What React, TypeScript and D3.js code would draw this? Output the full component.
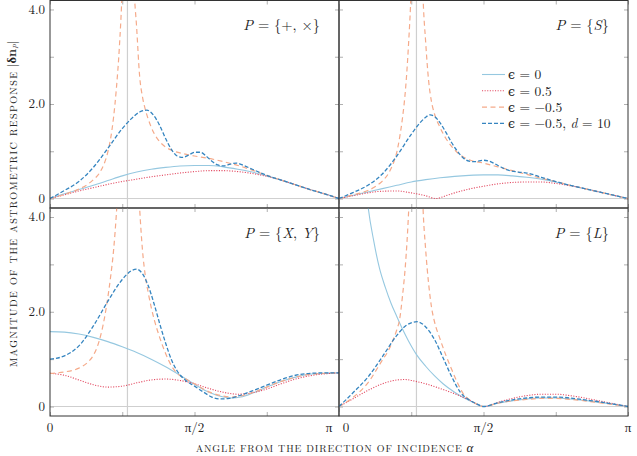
import * as React from "react";
import { useEffect, useRef } from "react";
import * as d3 from "d3";

type Pt = [number, number]; // [alpha / pi, |dn_P|]

// P = {+, x}
const plusZero: Pt[] = [[0,0],[0.05,0.1],[0.1,0.19],[0.15,0.28],[0.2,0.38],[0.25,0.48],[0.3,0.56],[0.35,0.62],[0.4,0.66],[0.45,0.69],[0.5,0.7],[0.55,0.7],[0.6,0.67],[0.65,0.62],[0.7,0.56],[0.75,0.48],[0.8,0.39],[0.85,0.29],[0.9,0.19],[0.95,0.1],[1,0]];
const plusHalf: Pt[] = [[0,0],[0.05,0.08],[0.1,0.16],[0.15,0.23],[0.2,0.3],[0.25,0.36],[0.3,0.41],[0.35,0.46],[0.4,0.5],[0.45,0.54],[0.5,0.57],[0.55,0.59],[0.6,0.59],[0.65,0.57],[0.7,0.53],[0.75,0.47],[0.8,0.39],[0.85,0.29],[0.9,0.19],[0.95,0.1],[1,0]];
const plusNegL: Pt[] = [[0,0],[0.05,0.09],[0.1,0.2],[0.13,0.3],[0.15,0.4],[0.17,0.53],[0.19,0.78],[0.2,0.98],[0.21,1.28],[0.22,1.72],[0.23,2.35],[0.24,3.2],[0.25,4.5],[0.26,7]];
const plusNegR: Pt[] = [[0.28,7],[0.29,4.6],[0.3,3.6],[0.31,2.6],[0.32,2.15],[0.33,1.88],[0.34,1.68],[0.36,1.38],[0.38,1.2],[0.4,1.09],[0.43,1.0],[0.46,0.95],[0.5,0.9],[0.55,0.85],[0.6,0.78],[0.65,0.7],[0.7,0.6],[0.75,0.49],[0.8,0.39],[0.85,0.29],[0.9,0.19],[0.95,0.1],[1,0]];
const plusD10: Pt[] = [[0,0],[0.05,0.17],[0.1,0.36],[0.15,0.66],[0.2,1.06],[0.25,1.48],[0.28,1.68],[0.31,1.83],[0.335,1.87],[0.36,1.75],[0.38,1.54],[0.4,1.27],[0.42,1.04],[0.44,0.9],[0.46,0.87],[0.48,0.92],[0.5,0.98],[0.52,0.98],[0.54,0.9],[0.56,0.79],[0.58,0.71],[0.6,0.69],[0.625,0.73],[0.645,0.75],[0.67,0.7],[0.7,0.62],[0.75,0.49],[0.8,0.39],[0.85,0.29],[0.9,0.19],[0.95,0.1],[1,0]];

// P = {S}
const sZero: Pt[] = [[0,0],[0.05,0.07],[0.1,0.14],[0.15,0.21],[0.2,0.28],[0.25,0.35],[0.3,0.4],[0.35,0.44],[0.4,0.47],[0.45,0.49],[0.5,0.5],[0.55,0.5],[0.6,0.48],[0.65,0.45],[0.7,0.41],[0.75,0.35],[0.8,0.28],[0.85,0.21],[0.9,0.14],[0.95,0.07],[1,0]];
const sHalf: Pt[] = [[0,0],[0.05,0.06],[0.1,0.12],[0.15,0.155],[0.2,0.16],[0.25,0.12],[0.3,0.06],[0.335,0],[0.37,0.06],[0.4,0.12],[0.45,0.2],[0.5,0.26],[0.55,0.31],[0.6,0.34],[0.65,0.35],[0.7,0.35],[0.75,0.32],[0.8,0.27],[0.85,0.21],[0.9,0.14],[0.95,0.07],[1,0]];
const sNegL: Pt[] = [[0,0],[0.05,0.08],[0.1,0.17],[0.13,0.27],[0.15,0.37],[0.17,0.52],[0.19,0.78],[0.2,0.98],[0.21,1.3],[0.22,1.72],[0.23,2.3],[0.24,3.2],[0.25,4.5],[0.26,7]];
const sNegR: Pt[] = [[0.28,7],[0.29,4.4],[0.3,3.3],[0.31,2.5],[0.32,2.05],[0.33,1.8],[0.35,1.5],[0.37,1.27],[0.39,1.1],[0.42,0.92],[0.45,0.82],[0.5,0.75],[0.55,0.67],[0.6,0.59],[0.65,0.51],[0.7,0.43],[0.75,0.36],[0.8,0.28],[0.85,0.21],[0.9,0.14],[0.95,0.07],[1,0]];
const sD10: Pt[] = [[0,0],[0.05,0.13],[0.1,0.28],[0.15,0.52],[0.2,0.9],[0.25,1.36],[0.28,1.6],[0.3,1.72],[0.315,1.77],[0.33,1.74],[0.35,1.6],[0.37,1.4],[0.39,1.18],[0.41,1.0],[0.43,0.86],[0.45,0.79],[0.47,0.78],[0.5,0.81],[0.52,0.79],[0.55,0.7],[0.58,0.61],[0.62,0.56],[0.65,0.54],[0.7,0.45],[0.75,0.36],[0.8,0.28],[0.85,0.21],[0.9,0.14],[0.95,0.07],[1,0]];

// P = {X, Y}
const xyZero: Pt[] = [[0,1.58],[0.05,1.57],[0.1,1.53],[0.15,1.46],[0.2,1.37],[0.25,1.26],[0.3,1.14],[0.35,1.0],[0.4,0.84],[0.45,0.66],[0.5,0.47],[0.55,0.3],[0.6,0.2],[0.63,0.18],[0.66,0.2],[0.7,0.28],[0.75,0.41],[0.8,0.53],[0.85,0.62],[0.9,0.68],[0.95,0.7],[1,0.71]];
const xyHalf: Pt[] = [[0,0.7],[0.05,0.66],[0.1,0.56],[0.15,0.46],[0.2,0.41],[0.25,0.43],[0.3,0.5],[0.35,0.56],[0.4,0.58],[0.45,0.55],[0.5,0.48],[0.55,0.38],[0.6,0.3],[0.65,0.26],[0.7,0.29],[0.75,0.37],[0.8,0.48],[0.85,0.58],[0.9,0.65],[0.95,0.69],[1,0.71]];
const xyNegL: Pt[] = [[0,0.7],[0.05,0.73],[0.1,0.81],[0.13,0.93],[0.15,1.08],[0.17,1.38],[0.19,1.92],[0.2,2.3],[0.21,2.75],[0.22,3.3],[0.23,4.1],[0.24,5.2],[0.25,7]];
const xyNegR: Pt[] = [[0.29,7],[0.3,5.4],[0.31,4.2],[0.32,3.3],[0.33,2.75],[0.34,2.4],[0.35,2.1],[0.36,1.85],[0.38,1.45],[0.4,1.12],[0.42,0.86],[0.44,0.7],[0.47,0.58],[0.5,0.48],[0.55,0.31],[0.6,0.22],[0.63,0.2],[0.66,0.22],[0.7,0.29],[0.75,0.41],[0.8,0.53],[0.85,0.62],[0.9,0.68],[0.95,0.7],[1,0.71]];
const xyD10: Pt[] = [[0,1.0],[0.05,1.07],[0.1,1.28],[0.15,1.7],[0.2,2.22],[0.25,2.68],[0.28,2.86],[0.3,2.9],[0.32,2.8],[0.34,2.55],[0.36,2.17],[0.38,1.74],[0.4,1.34],[0.42,0.99],[0.44,0.75],[0.47,0.55],[0.5,0.43],[0.53,0.31],[0.56,0.2],[0.59,0.16],[0.62,0.17],[0.65,0.22],[0.7,0.33],[0.75,0.45],[0.8,0.57],[0.85,0.66],[0.9,0.7],[0.95,0.71],[1,0.71]];

// P = {L}
const lZero: Pt[] = [[0.08,5.6],[0.09,4.85],[0.1,4.25],[0.12,3.5],[0.14,2.92],[0.16,2.52],[0.18,2.18],[0.2,1.9],[0.22,1.63],[0.24,1.39],[0.27,1.08],[0.3,0.85],[0.33,0.65],[0.36,0.48],[0.4,0.3],[0.43,0.19],[0.46,0.1],[0.5,0],[0.55,0.07],[0.6,0.12],[0.65,0.16],[0.7,0.18],[0.75,0.18],[0.8,0.16],[0.85,0.13],[0.9,0.09],[0.95,0.05],[1,0]];
const lHalf: Pt[] = [[0,0],[0.05,0.17],[0.1,0.34],[0.15,0.48],[0.2,0.56],[0.23,0.57],[0.25,0.55],[0.3,0.48],[0.35,0.38],[0.4,0.27],[0.45,0.14],[0.5,0],[0.55,0.09],[0.6,0.17],[0.65,0.23],[0.7,0.26],[0.75,0.26],[0.8,0.23],[0.85,0.18],[0.9,0.12],[0.95,0.06],[1,0]];
const lNegL: Pt[] = [[0,0],[0.05,0.2],[0.1,0.5],[0.15,0.98],[0.17,1.17],[0.19,1.45],[0.2,1.62],[0.21,1.85],[0.22,2.35],[0.23,3.0],[0.24,4.0],[0.25,5.5],[0.26,7.5]];
const lNegR: Pt[] = [[0.28,6.5],[0.29,4.3],[0.3,3.3],[0.31,2.6],[0.32,2.1],[0.33,1.8],[0.35,1.42],[0.37,1.08],[0.39,0.78],[0.41,0.5],[0.43,0.27],[0.45,0.15],[0.475,0.06],[0.5,0],[0.55,0.07],[0.6,0.12],[0.65,0.15],[0.7,0.17],[0.75,0.17],[0.8,0.15],[0.85,0.12],[0.9,0.08],[0.95,0.04],[1,0]];
const lD10: Pt[] = [[0,0],[0.05,0.3],[0.1,0.62],[0.15,1.05],[0.2,1.5],[0.23,1.7],[0.27,1.79],[0.3,1.68],[0.33,1.42],[0.36,1.03],[0.39,0.63],[0.42,0.3],[0.45,0.14],[0.475,0.06],[0.5,0],[0.55,0.08],[0.6,0.14],[0.65,0.18],[0.7,0.2],[0.75,0.2],[0.8,0.18],[0.85,0.14],[0.9,0.1],[0.95,0.05],[1,0]];

const panelNames = ["{+, ×}", "{S}", "{X, Y}", "{L}"];
const legendLabels = ["ϵ = 0", "ϵ = 0.5", "ϵ = −0.5", "ϵ = −0.5, d = 10"];
const resonanceAlpha = 0.268; // vertical guide, in units of pi
const xTicks = [0, 0.25, 0.5, 0.75, 1];
const xTickLabels: Record<number, string> = { 0: "0", 0.5: "π/2", 1: "π" };
const yTicks = [0, 1, 2, 3, 4];
const yTickLabels: Record<number, string> = { 0: "0", 2: "2.0", 4: "4.0" };

const panelData = [
  { zero: plusZero, half: plusHalf, neg: [plusNegL, plusNegR], d10: plusD10 },
  { zero: sZero, half: sHalf, neg: [sNegL, sNegR], d10: sD10 },
  { zero: xyZero, half: xyHalf, neg: [xyNegL, xyNegR], d10: xyD10 },
  { zero: lZero, half: lHalf, neg: [lNegL, lNegR], d10: lD10 },
];

const styles = [
  { color: "#96c8e0", width: 1.1, dash: "" },
  { color: "#e2475f", width: 1.1, dash: "1.1,1.5" },
  { color: "#f5aa8a", width: 1.2, dash: "5,3.5" },
  { color: "#3585c0", width: 1.3, dash: "4,2" },
];

const serif = "'Latin Modern Roman', 'CMU Serif', 'Liberation Serif', 'DejaVu Serif', serif";

export default function App() {
  const svgRef = useRef<SVGSVGElement>(null);

  useEffect(() => {
    if (!svgRef.current) return;
    const svg = d3.select(svgRef.current);
    svg.selectAll("*").remove();

    const cols = [50, 339, 628];
    const rows = [0.5, 208, 416];

    panelData.forEach((pd, i) => {
      const col = i % 2, row = Math.floor(i / 2);
      const x0 = cols[col], x1 = cols[col + 1];
      const y0 = rows[row], y1 = rows[row + 1];
      const x = d3.scaleLinear().domain([0, 1]).range([x0, x1]);
      const y = d3.scaleLinear().domain([-0.2, 4.19]).range([y1, y0]);

      const g = svg.append("g");
      const clipId = `clip${i}`;
      g.append("clipPath").attr("id", clipId)
        .append("rect").attr("x", x0).attr("y", y0).attr("width", x1 - x0).attr("height", y1 - y0);

      // guides
      g.append("line").attr("x1", x(resonanceAlpha)).attr("x2", x(resonanceAlpha))
        .attr("y1", y0).attr("y2", y1).attr("stroke", "#cfcfcf").attr("stroke-width", 1.2);
      g.append("line").attr("x1", x0).attr("x2", x1).attr("y1", y(0)).attr("y2", y(0))
        .attr("stroke", "#cfcfcf").attr("stroke-width", 1);

      // inward ticks
      const tickStyle = (sel: any) => {
        sel.select(".domain").remove();
        sel.selectAll("line").attr("stroke", "#b0b0b0");
        sel.selectAll("text").remove();
      };
      g.append("g").attr("transform", `translate(0,${y0})`)
        .call(d3.axisTop(x).tickValues(xTicks).tickSize(-4)).call(tickStyle);
      g.append("g").attr("transform", `translate(0,${y1})`)
        .call(d3.axisBottom(x).tickValues(xTicks).tickSize(-4)).call(tickStyle);
      g.append("g").attr("transform", `translate(${x0},0)`)
        .call(d3.axisLeft(y).tickValues(yTicks).tickSize(-4)).call(tickStyle);
      g.append("g").attr("transform", `translate(${x1},0)`)
        .call(d3.axisRight(y).tickValues(yTicks).tickSize(-4)).call(tickStyle);

      // curves
      const line = d3.line<Pt>().x(d => x(d[0])).y(d => y(d[1])).curve(d3.curveMonotoneX);
      const curves = g.append("g").attr("clip-path", `url(#${clipId})`);
      const series: Pt[][][] = [[pd.zero], [pd.half], pd.neg, [pd.d10]];
      series.forEach((segs, k) => {
        segs.forEach(seg => {
          curves.append("path").attr("d", line(seg)!)
            .attr("fill", "none")
            .attr("stroke", styles[k].color)
            .attr("stroke-width", styles[k].width)
            .attr("stroke-dasharray", styles[k].dash || null);
        });
      });

      // frame
      g.append("rect").attr("x", x0).attr("y", y0).attr("width", x1 - x0).attr("height", y1 - y0)
        .attr("fill", "none").attr("stroke", "#333").attr("stroke-width", 1);

      // tick labels
      if (col === 0) {
        yTicks.filter(v => v in yTickLabels).forEach(v => {
          g.append("text").attr("x", x0 - 5).attr("y", y(v)).attr("dy", "0.33em")
            .attr("text-anchor", "end").attr("font-family", serif).attr("font-size", 13)
            .attr("fill", "#222").text(yTickLabels[v]);
        });
      }
      if (row === 1) {
        xTicks.filter(v => v in xTickLabels).forEach(v => {
          let shift = 0;
          if (col === 0 && v === 1) shift = -10;
          if (col === 1 && v === 0) shift = 7;
          g.append("text").attr("x", x(v) + shift).attr("y", y1 + 15.5)
            .attr("text-anchor", "middle").attr("font-family", serif).attr("font-size", 13)
            .attr("fill", "#222").text(xTickLabels[v]);
        });
      }

      // panel label
      const lab = g.append("text").attr("x", x1 - 19).attr("y", y0 + 29.5)
        .attr("text-anchor", "end").attr("font-family", serif).attr("font-size", 14.5).attr("fill", "#222");
      lab.append("tspan").attr("font-style", "italic").text("P");
      const parts = panelNames[i].split(/([A-Z])/);
      lab.append("tspan").text(" = ");
      parts.forEach(p => {
        if (!p) return;
        const t = lab.append("tspan").text(p);
        if (/^[A-Z]$/.test(p)) t.attr("font-style", "italic");
      });

      // legend in the top-right panel
      if (i === 1) {
        legendLabels.forEach((txt, k) => {
          const ly = y0 + 74 + k * 16.3;
          g.append("line").attr("x1", x1 - 146).attr("x2", x1 - 123).attr("y1", ly).attr("y2", ly)
            .attr("stroke", styles[k].color).attr("stroke-width", styles[k].width)
            .attr("stroke-dasharray", styles[k].dash || null);
          const t = g.append("text").attr("x", x1 - 120).attr("y", ly).attr("dy", "0.35em")
            .attr("font-family", serif).attr("font-size", 13.5).attr("fill", "#222");
          txt.split(/([ϵd])/).forEach(p => {
            if (!p) return;
            const s = t.append("tspan").text(p);
            if (p === "ϵ") s.attr("font-family", "'DejaVu Serif', serif").attr("font-size", 12.5);
            if (p === "d") s.attr("font-style", "italic");
          });
        });
      }
    });

    // axis titles
    svg.append("text").attr("transform", "translate(16.7,367) rotate(-90)")
      .attr("font-family", serif).attr("font-size", 10).attr("fill", "#222")
      .attr("textLength", 295).attr("lengthAdjust", "spacing")
      .text("MAGNITUDE OF THE ASTROMETRIC RESPONSE");
    const yl = svg.append("text").attr("transform", "translate(16.2,67) rotate(-90)")
      .attr("font-family", serif).attr("font-size", 12.5).attr("fill", "#222");
    yl.append("tspan").text("|");
    yl.append("tspan").attr("font-weight", "bold").text("δn");
    yl.append("tspan").attr("font-size", 7).attr("font-style", "italic").attr("dy", 2).text("P");
    yl.append("tspan").attr("dy", -2).text("|");

    svg.append("text").attr("x", 195.7).attr("y", 452)
      .attr("font-family", serif).attr("font-size", 10).attr("fill", "#222")
      .attr("textLength", 266).attr("lengthAdjust", "spacing")
      .text("ANGLE FROM THE DIRECTION OF INCIDENCE");
    svg.append("text").attr("x", 466.5).attr("y", 452)
      .attr("font-family", serif).attr("font-size", 13).attr("font-style", "italic").attr("fill", "#222")
      .text("α");
  }, []);

  return (
    <svg
      ref={svgRef}
      width={637}
      height={456}
      style={{ position: "absolute", left: 0, top: 0, background: "#fff" }}
    />
  );
}
